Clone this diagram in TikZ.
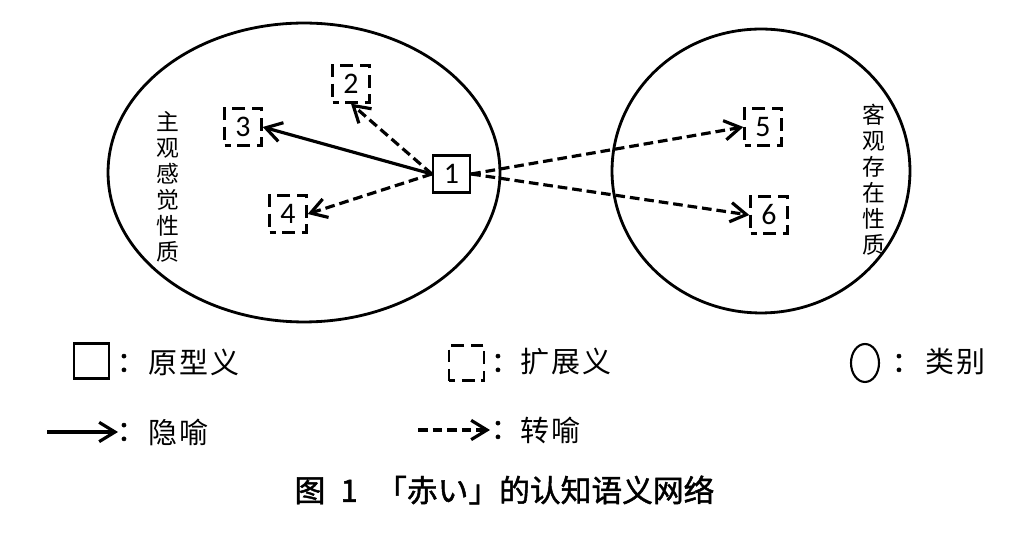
\documentclass[tikz,border=0pt]{standalone}
\usepackage{fontspec}
\newfontfamily\cjk{Noto Sans CJK SC}
\newfontfamily\cjkwide[LetterSpace=8]{Noto Sans CJK SC}
\newfontfamily\capfont[FakeBold=1.5]{Noto Sans CJK SC}
\newfontfamily\numfont{Carlito}
\usetikzlibrary{arrows.meta,shapes.geometric}

\begin{document}
\begin{tikzpicture}[x=0.02cm,y=-0.02cm,>={Straight Barb[length=9pt,width=11pt]}]
\tikzstyle{proto}=[rectangle,draw=black,line width=1.4pt,minimum size=21pt,inner sep=0pt,font=\numfont\fontsize{17}{17}\selectfont]
\tikzstyle{ext}=[proto,dash pattern=on 7.33pt off 3.67pt,dash phase=3.67pt]
\tikzstyle{cat}=[ellipse,draw=black,line width=1.6pt,inner sep=0pt]
\tikzstyle{vlabel}=[align=center,inner sep=0pt,font=\cjk\fontsize{13}{14.8}\selectfont]
\tikzstyle{colon}=[inner sep=0pt,font=\capfont\fontsize{16}{16}\selectfont]
\tikzstyle{legtext}=[anchor=west,inner sep=0pt,font=\cjkwide\fontsize{16.5}{16.5}\selectfont]
\tikzstyle{meta}=[->,line width=1.8pt]
\tikzstyle{meto}=[->,line width=1.8pt,dash pattern=on 5.5pt off 2.8pt]
\useasboundingbox (0,0) rectangle (1012,543);
\node[cat,minimum width=7.84cm,minimum height=5.98cm] (subj) at (304,172.5) {};
\node[cat,minimum width=5.96cm,minimum height=5.68cm] (obj) at (761,171) {};
\node[vlabel] (subjname) at (168,187) {主\\观\\感\\觉\\性\\质};
\node[vlabel] (objname) at (874,180) {客\\观\\存\\在\\性\\质};
\node[proto] (n1) at (451.5,174) {1};
\node[ext] (n2) at (351,84) {2};
\node[ext] (n3) at (243,127) {3};
\node[ext] (n4) at (288,214) {4};
\node[ext] (n5) at (763,127) {5};
\node[ext] (n6) at (769,215) {6};
\draw[meta] (n1.west) -- (n3.east);
\draw[meto] (n1.west) -- (n2.south);
\draw[meto] (n1.west) -- (n4.east);
\draw[meto] (n1.east) -- (n5.west);
\draw[meto] (n1.east) -- (n6.west);
\node[proto,minimum size=20pt] (lgproto) at (91.5,361) {};
\node[ext,minimum size=20pt] (lgext) at (466.5,363) {};
\node[cat,minimum width=0.56cm,minimum height=0.76cm,line width=1.2pt] (lgcat) at (865,363) {};
\coordinate (lgmetaa) at (47,432);
\coordinate (lgmetab) at (118,432);
\coordinate (lgmetoa) at (418,430);
\coordinate (lgmetob) at (490,430);
\draw[meta] (lgmetaa) -- (lgmetab);
\draw[meto] (lgmetoa) -- (lgmetob);
\node[colon] (col1) at (131,363) {：};
\node[colon] (col2) at (505,363) {：};
\node[colon] (col3) at (906,363) {：};
\node[colon] (col4) at (131,432) {：};
\node[colon] (col5) at (505,430) {：};
\node[legtext] (proto) at (148,362) {原型义};
\node[legtext] (ext) at (520,362) {扩展义};
\node[legtext] (cat) at (925,362) {类别};
\node[legtext] (meta) at (148,432) {隐喻};
\node[legtext] (meto) at (520,430) {转喻};
\node[font=\capfont\fontsize{17.5}{17.5}\selectfont] (caption) at (504.5,490) {图\hspace{0.5em}1\hspace{0.6em}「赤い」的认知语义网络};
\end{tikzpicture}
\end{document}
